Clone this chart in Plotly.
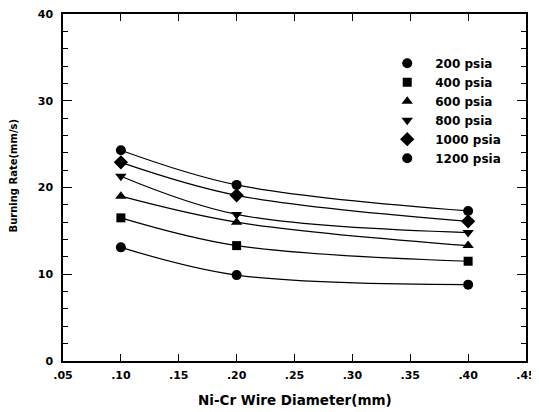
import plotly.graph_objects as go

diameter = [0.10, 0.20, 0.40]
series_names = ["200 psia", "400 psia", "600 psia", "800 psia", "1000 psia", "1200 psia"]
rate_200 = [13.1, 9.9, 8.8]
rate_400 = [16.5, 13.3, 11.5]
rate_600 = [19.0, 16.0, 13.3]
rate_800 = [21.3, 16.9, 14.8]
rate_1000 = [22.9, 19.1, 16.1]
rate_1200 = [24.3, 20.3, 17.3]
symbols = ["circle", "square", "triangle-up", "triangle-down", "diamond", "circle"]
sizes = [10, 9, 10, 10, 11, 10]

x_ticks = [0.05, 0.10, 0.15, 0.20, 0.25, 0.30, 0.35, 0.40, 0.45]
x_ticklabels = [".05", ".10", ".15", ".20", ".25", ".30", ".35", ".40", ".45"]
y_ticks = [0, 10, 20, 30, 40]
y_ticklabels = ["0", "10", "20", "30", "40"]
x_title = "Ni-Cr Wire Diameter(mm)"
y_title = "Burning Rate(mm/s)"

all_rates = [rate_200, rate_400, rate_600, rate_800, rate_1000, rate_1200]

fig = go.Figure()
for name, ys, sym, sz in zip(series_names, all_rates, symbols, sizes):
    fig.add_trace(go.Scatter(
        x=diameter, y=ys, name=name, mode="lines+markers", showlegend=False,
        line=dict(color="black", width=1.2, shape="spline", smoothing=1.0),
        marker=dict(symbol=sym, size=sz, color="black"),
    ))
# legend-only entries (markers without lines)
for name, sym, sz in zip(series_names, symbols, sizes):
    fig.add_trace(go.Scatter(
        x=[None], y=[None], name=name, mode="markers", showlegend=True,
        marker=dict(symbol=sym, size=sz, color="black"),
    ))

tick_font = dict(family="DejaVu Sans", size=11, color="black", weight="bold")

# page body has an 8px margin: figure is offset by 8px, so size/margins compensate
fig.update_layout(
    width=531, height=404,
    margin=dict(l=55, r=13, t=6, b=51),
    paper_bgcolor="white", plot_bgcolor="white",
    showlegend=True,
    legend=dict(
        x=0.683, y=0.90, xanchor="left", yanchor="top",
        font=dict(family="DejaVu Sans", size=12, color="black", weight="bold"),
        bgcolor="rgba(0,0,0,0)", itemwidth=46, tracegroupgap=0,
    ),
    xaxis=dict(
        range=[0.05, 0.45], tickmode="array", tickvals=x_ticks, ticktext=x_ticklabels,
        ticks="inside", ticklen=7, tickwidth=1.2, tickcolor="black",
        showline=True, linecolor="black", linewidth=1.5, mirror="ticks",
        showgrid=False, zeroline=False, tickfont=tick_font, automargin=False,
        ticklabelstandoff=3, ticklabeloverflow="allow",
    ),
    yaxis=dict(
        range=[0, 40], tickmode="array", tickvals=y_ticks, ticktext=y_ticklabels,
        ticks="inside", ticklen=9, tickwidth=1.2, tickcolor="black",
        minor=dict(dtick=2, ticks="inside", ticklen=5, tickwidth=1, tickcolor="black"),
        showline=True, linecolor="black", linewidth=1.5, mirror="ticks",
        showgrid=False, zeroline=False, tickfont=tick_font, automargin=False,
        ticklabelstandoff=6, ticklabeloverflow="allow",
    ),
    annotations=[
        dict(text=x_title, xref="paper", yref="paper", x=0.5, y=-0.112,
             xanchor="center", yanchor="middle", showarrow=False,
             font=dict(family="DejaVu Sans", size=13.5, color="black", weight="bold")),
        dict(text=y_title, xref="paper", yref="paper", x=-0.107, y=0.536,
             xanchor="center", yanchor="middle", showarrow=False, textangle=-90,
             font=dict(family="DejaVu Sans", size=10, color="black", weight="bold")),
    ],
)

fig.write_html("out.html")
